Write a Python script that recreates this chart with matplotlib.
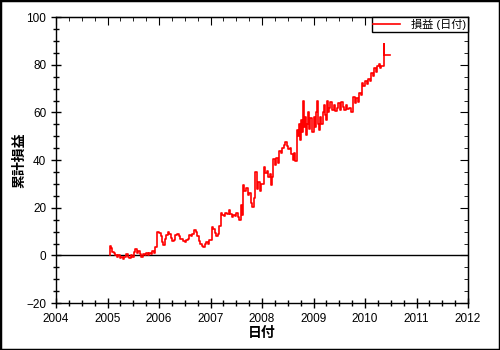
import matplotlib
matplotlib.use('Agg')
import matplotlib.pyplot as plt
from matplotlib.patches import Rectangle
from matplotlib.ticker import MultipleLocator

plt.rcParams['font.family'] = ['Liberation Sans', 'Noto Sans CJK JP', 'DejaVu Sans']

# Cumulative P&L (decimal year, value)
dates = [
    2005.04, 2005.05, 2005.07, 2005.09, 2005.12, 2005.15, 2005.18, 2005.21, 2005.24, 2005.27,
    2005.30, 2005.33, 2005.36, 2005.39, 2005.42, 2005.45, 2005.48, 2005.51, 2005.54, 2005.57,
    2005.60, 2005.63, 2005.66, 2005.69, 2005.72, 2005.75, 2005.78, 2005.81, 2005.84, 2005.87,
    2005.90, 2005.93, 2005.97, 2006.00, 2006.03, 2006.06, 2006.08, 2006.11, 2006.14, 2006.17,
    2006.20, 2006.23, 2006.26, 2006.29, 2006.32, 2006.35, 2006.38, 2006.41, 2006.44, 2006.47,
    2006.50, 2006.53, 2006.56, 2006.59, 2006.62, 2006.65, 2006.68, 2006.71, 2006.74, 2006.77,
    2006.80, 2006.83, 2006.86, 2006.89, 2006.92, 2006.95, 2006.98, 2007.02, 2007.05, 2007.08,
    2007.11, 2007.14, 2007.17, 2007.20, 2007.23, 2007.26, 2007.29, 2007.32, 2007.35, 2007.38,
    2007.41, 2007.44, 2007.47, 2007.50, 2007.53, 2007.56, 2007.59, 2007.62, 2007.64, 2007.66,
    2007.69, 2007.72, 2007.75, 2007.78, 2007.81, 2007.84, 2007.87, 2007.90, 2007.93, 2007.96,
    2007.99, 2008.03, 2008.06, 2008.09, 2008.12, 2008.15, 2008.17, 2008.20, 2008.22, 2008.25,
    2008.28, 2008.31, 2008.33, 2008.36, 2008.39, 2008.42, 2008.45, 2008.48, 2008.51, 2008.54,
    2008.57, 2008.60, 2008.62, 2008.65, 2008.67, 2008.70, 2008.72, 2008.74, 2008.76, 2008.78,
    2008.80, 2008.82, 2008.84, 2008.86, 2008.88, 2008.90, 2008.92, 2008.94, 2008.97, 2009.00,
    2009.02, 2009.04, 2009.06, 2009.08, 2009.10, 2009.12, 2009.15, 2009.18, 2009.20, 2009.22,
    2009.24, 2009.26, 2009.28, 2009.30, 2009.33, 2009.36, 2009.39, 2009.42, 2009.45, 2009.48,
    2009.51, 2009.54, 2009.57, 2009.60, 2009.63, 2009.66, 2009.69, 2009.72, 2009.74, 2009.77,
    2009.80, 2009.83, 2009.86, 2009.89, 2009.92, 2009.94, 2009.97, 2010.00, 2010.03, 2010.06,
    2010.09, 2010.12, 2010.15, 2010.18, 2010.21, 2010.24, 2010.27, 2010.30, 2010.32, 2010.36,
    2010.365, 2010.49,
]
pnl = [
    0.0, 4.0, 3.0, 1.5, 1.0, 0.2, -0.5, 0.3, -1.0, -0.5,
    -1.5, -0.8, 0.5, -0.5, -1.2, 0.3, -0.8, 1.5, 2.5, 1.0,
    1.8, 0.5, -0.5, 0.8, 0.0, 1.0, 0.2, 1.2, 0.5, 2.0,
    1.0, 3.5, 9.8, 9.5, 8.0, 5.5, 4.5, 7.0, 8.5, 10.0,
    9.0, 7.5, 6.0, 6.5, 8.5, 9.0, 8.0, 6.8, 7.0, 6.0,
    5.5, 6.5, 7.0, 8.5, 8.0, 9.0, 10.5, 9.8, 8.0, 6.0,
    5.0, 4.0, 3.5, 5.0, 5.5, 5.0, 6.5, 12.0, 11.0, 9.5,
    8.0, 9.0, 12.5, 17.8, 17.0, 16.5, 18.0, 17.2, 19.0, 17.5,
    16.0, 17.0, 16.5, 18.0, 16.0, 15.0, 21.0, 17.0, 29.5, 27.0,
    28.5, 25.5, 26.0, 22.0, 20.5, 24.0, 35.0, 28.0, 31.0, 27.0,
    30.0, 37.0, 34.5, 35.5, 33.0, 34.0, 29.5, 33.0, 40.5, 38.0,
    41.0, 39.0, 44.0, 43.0, 45.0, 46.5, 47.7, 46.0, 44.5, 45.0,
    42.5, 40.0, 43.0, 39.5, 52.5, 50.0, 55.0, 48.5, 57.0, 52.0,
    65.0, 54.0, 58.0, 50.5, 55.0, 60.0, 53.0, 57.5, 52.0, 58.0,
    54.0, 60.0, 65.0, 55.0, 52.5, 58.0, 55.0, 60.0, 63.0, 59.0,
    57.0, 65.0, 60.0, 62.0, 64.5, 61.0, 63.0, 60.5, 62.0, 64.0,
    61.0, 64.5, 62.5, 61.0, 63.0, 61.5, 62.0, 60.3, 60.0, 66.5,
    64.0, 66.0, 64.5, 68.0, 67.5, 72.5, 71.0, 73.0, 72.0, 74.0,
    73.0, 76.5, 75.5, 78.5, 77.0, 79.5, 80.5, 78.5, 79.5, 88.7,
    84.3, 84.3,
]

fig = plt.figure(figsize=(5, 3.5), dpi=100)
ax = fig.add_axes([0.112, 0.134, 0.824, 0.817])

ax.axhline(0, color='black', linewidth=1.0, zorder=1)
ax.plot(dates, pnl, color='#ff0000', linewidth=1.2, drawstyle='steps-post',
        label='損益 (日付)', zorder=2)

ax.set_xlim(2004, 2012)
ax.set_ylim(-20, 100)
ax.xaxis.set_major_locator(MultipleLocator(1))
ax.xaxis.set_minor_locator(MultipleLocator(0.25))
ax.yaxis.set_major_locator(MultipleLocator(20))
ax.yaxis.set_minor_locator(MultipleLocator(5))
ax.xaxis.set_major_formatter(plt.FuncFormatter(lambda v, p: f'{int(v)}'))
ax.tick_params(which='major', direction='inout', length=7, width=1, labelsize=8.5)
ax.tick_params(which='minor', direction='inout', length=5, width=1)
for s in ax.spines.values():
    s.set_linewidth(1.0)

# top / right axes with inward ticks only
top = ax.secondary_xaxis('top')
top.xaxis.set_major_locator(MultipleLocator(1))
top.xaxis.set_minor_locator(MultipleLocator(0.25))
top.tick_params(which='major', direction='in', length=6, labeltop=False)
top.tick_params(which='minor', direction='in', length=3)
right = ax.secondary_yaxis('right')
right.yaxis.set_major_locator(MultipleLocator(20))
right.yaxis.set_minor_locator(MultipleLocator(5))
right.tick_params(which='major', direction='in', length=6, labelright=False)
right.tick_params(which='minor', direction='in', length=3)

ax.set_xlabel('日付', fontsize=10, fontweight='bold', labelpad=1)
ax.set_ylabel('累計損益', fontsize=10, fontweight='bold', labelpad=0)

leg = ax.legend(loc='upper right', fontsize=8, fancybox=False, framealpha=1,
                edgecolor='black', borderaxespad=0, borderpad=0.15,
                handlelength=2.4, handletextpad=1.0)
leg.get_frame().set_linewidth(1.0)

fig.patches.append(Rectangle((0, 0), 1, 1, transform=fig.transFigure,
                             fill=False, edgecolor='black', linewidth=2.5))

fig.savefig('out.png', dpi=100)
